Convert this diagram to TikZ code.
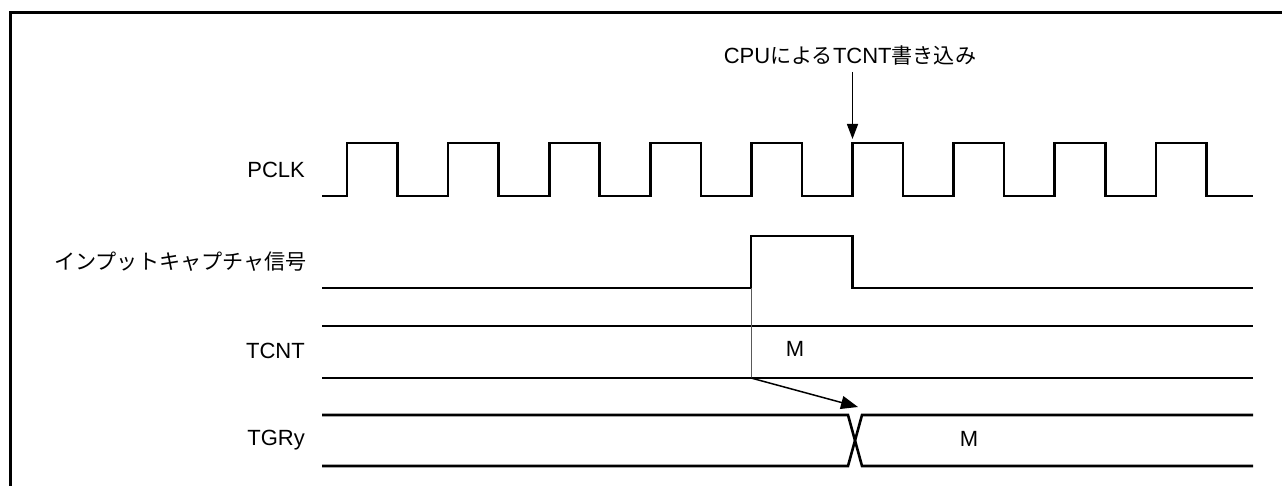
\documentclass[tikz,border=0pt]{standalone}
\usepackage{fontspec}
\setmainfont{Liberation Sans}
\newfontfamily\jpfont[Scale=0.96]{Noto Sans CJK JP}
\usetikzlibrary{arrows.meta}
\begin{document}
\begin{tikzpicture}[x=1pt,y=-1pt,
  sig/.style={line width=2.6pt, line join=miter, line cap=butt},
  bus/.style={line width=2pt},
  lbl/.style={font=\fontsize{22}{26}\selectfont, anchor=east, inner sep=0pt},
  val/.style={font=\fontsize{22}{26}\selectfont, inner sep=0pt},
  note/.style={font=\fontsize{22}{26}\selectfont, inner sep=0pt}]
\useasboundingbox (0,0) rectangle (1282,486);
% frame
\draw[line width=3pt] (10,520) -- (10,12.5) -- (1320,12.5);
% labels
\node[lbl] (pclk) at (305,170) {PCLK};
\node[lbl] (ic) at (307,262) {\jpfont インプットキャプチャ信号};
\node[lbl] (tcnt) at (305,351) {TCNT};
\node[lbl] (tgry) at (305,440) {TGRy};
\node[val] (m1) at (795,349) {M};
\node[val] (m2) at (969,439) {M};
\node[note] (cpu) at (850,55) {CPU{\jpfont による}TCNT{\jpfont 書き込み}};
% PCLK
\draw[sig] (322,196) \foreach \k in {0,...,8}{
  -- ({347+101.1*\k},196) -- ({347+101.1*\k},143)
  -- ({397.5+101.1*\k},143) -- ({397.5+101.1*\k},196)} -- (1253,196);
% CPU write arrow
\coordinate (wtop) at (852.5,72);
\coordinate (wtip) at (852.5,139);
\draw[line width=1.4pt, -{Triangle[length=15pt,width=11pt]}] (wtop) -- (wtip);
% input capture
\coordinate (icr) at (751,288);
\draw[sig] (322,288) -- (icr) -- (751,236) -- (852.5,236) -- (852.5,288) -- (1253,288);
% TCNT
\draw[bus] (322,326) -- (1253,326);
\draw[bus] (322,378) -- (1253,378);
\coordinate (tc) at (751,378);
\draw[line width=0.9pt, gray!70!black] (icr) -- (tc);
% TGRy
\draw[sig] (322,415) -- (848,415) -- (862,466) -- (1253,466);
\draw[sig] (322,466) -- (848,466) -- (862,415) -- (1253,415);
\coordinate (tg) at (858,407);
\draw[line width=1.5pt, -{Triangle[length=17pt,width=13pt]}] (tc) -- (tg);
\end{tikzpicture}
\end{document}
